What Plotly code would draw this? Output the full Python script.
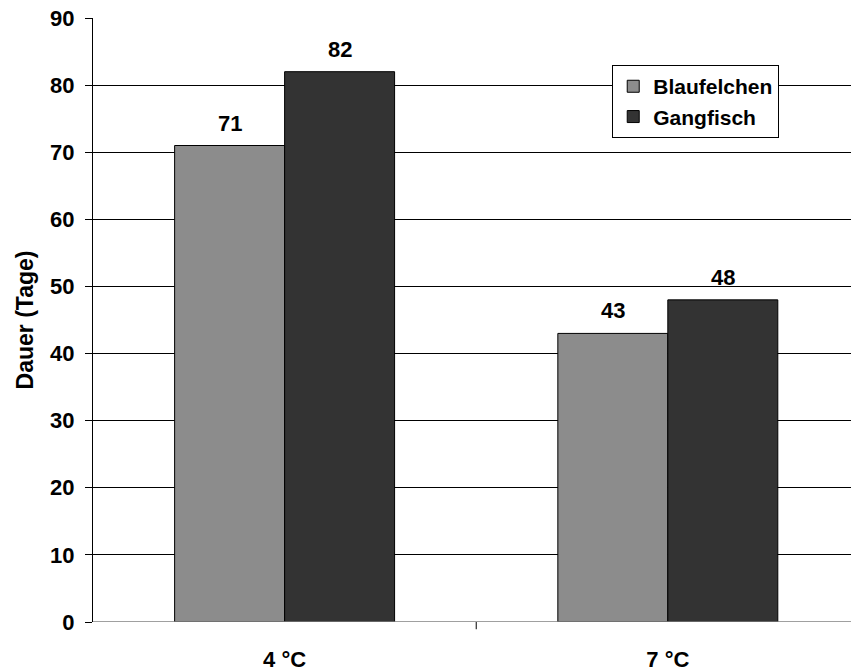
import plotly.graph_objects as go

categories = ["4 °C", "7 °C"]
blaufelchen = [71, 43]
gangfisch = [82, 48]
y_ticks = [0, 10, 20, 30, 40, 50, 60, 70, 80, 90]

FONT = "Liberation Sans, Arial, sans-serif"
x_pos = list(range(len(categories)))

fig = go.Figure()
fig.add_trace(go.Bar(name="Blaufelchen", x=x_pos, y=blaufelchen,
                     marker=dict(color="#8c8c8c", line=dict(color="black", width=1)),
                     offset=-0.287, width=0.287))
fig.add_trace(go.Bar(name="Gangfisch", x=x_pos, y=gangfisch,
                     marker=dict(color="#333333", line=dict(color="black", width=1)),
                     offset=0, width=0.287))

annotations = []
for i, v in enumerate(blaufelchen):
    annotations.append(dict(x=i - 0.1435, y=v, text=f"<b>{v}</b>", showarrow=False,
                            yanchor="bottom", yshift=8, font=dict(size=22, color="black", family=FONT)))
for i, v in enumerate(gangfisch):
    annotations.append(dict(x=i + 0.1435, y=v, text=f"<b>{v}</b>", showarrow=False,
                            yanchor="bottom", yshift=8, font=dict(size=22, color="black", family=FONT)))

fig.update_layout(
    width=851, height=672,
    margin=dict(l=93, r=0, t=18, b=50),
    paper_bgcolor="white", plot_bgcolor="white",
    font=dict(family=FONT, size=22, color="black"),
    showlegend=True,
    legend=dict(x=0.685, y=0.922, xanchor="left", yanchor="top",
                bordercolor="black", borderwidth=1, bgcolor="white",
                font=dict(size=21, family=FONT, weight="bold"),
                tracegroupgap=0, itemwidth=30),
    annotations=annotations,
    xaxis=dict(range=[-0.5, 1.478], tickmode="array", tickvals=x_pos,
               ticktext=[f"<b>{c}</b>" for c in categories],
               showgrid=False, showline=False, zeroline=False, ticks="",
               ticklabelstandoff=22),
    yaxis=dict(range=[0, 90], tickmode="array", tickvals=y_ticks,
               ticktext=[f"<b>{t}</b>" for t in y_ticks],
               showgrid=True, gridcolor="black", gridwidth=1,
               showline=True, linecolor="black", linewidth=1,
               ticks="outside", ticklen=7, tickcolor="black",
               zeroline=False, ticklabelstandoff=6,
               title=dict(text="<b>Dauer (Tage)</b>", font=dict(size=23, family=FONT), standoff=10)),
    shapes=[
        dict(type="line", xref="x", yref="y", x0=-0.5, x1=1.478, y0=0, y1=0,
             line=dict(color="#808080", width=1.5), layer="above"),
        dict(type="line", xref="x", yref="paper", x0=0.5, x1=0.5, y0=0, y1=-0.012,
             line=dict(color="black", width=1)),
    ],
    bargap=0.426,
)

fig.write_html("out.html")
